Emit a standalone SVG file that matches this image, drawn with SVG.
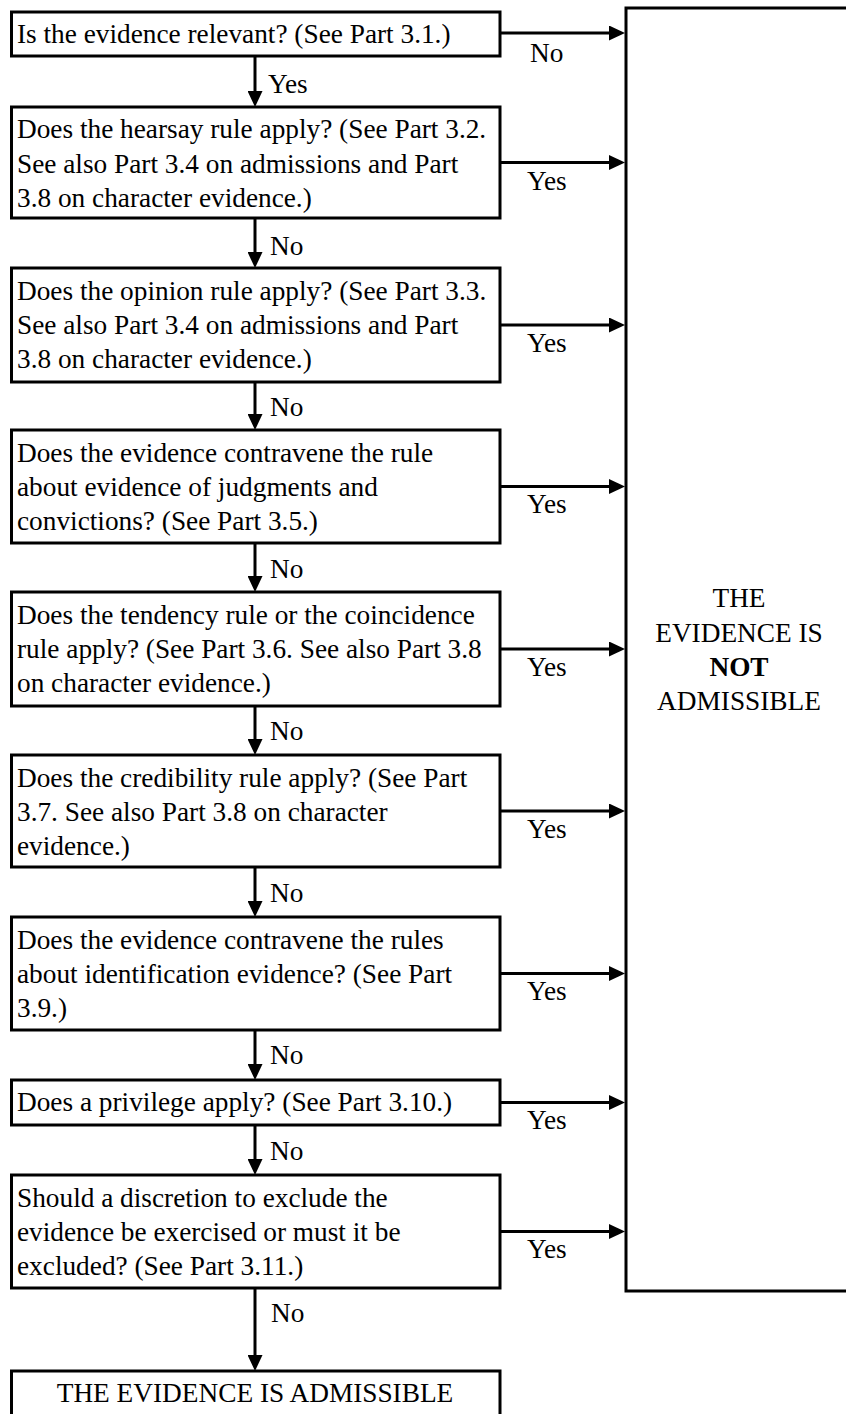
<svg xmlns="http://www.w3.org/2000/svg" width="846" height="1414" viewBox="0 0 846 1414">
<style>
  text { font-family: "Liberation Serif", "Times New Roman", serif; font-size: 27.3px; fill: #000; }
  .box { fill: #fff; stroke: #000; stroke-width: 3; }
  .conn { fill: none; stroke: #000; stroke-width: 3; marker-end: url(#ah); }
  .mid { text-anchor: middle; }
</style>
<defs>
  <marker id="ah" markerUnits="userSpaceOnUse" markerWidth="16" markerHeight="15" refX="8" refY="7.5" orient="auto" viewBox="0 0 16 15">
    <path d="M0,0 L16,7.5 L0,15 z" fill="#000"/>
  </marker>
</defs>
<rect width="846" height="1414" fill="#fff"/>

<g id="connectors">
  <path class="conn" d="M500,33 H617"/>
  <path class="conn" d="M500,162.5 H617"/>
  <path class="conn" d="M500,325 H617"/>
  <path class="conn" d="M500,486.5 H617"/>
  <path class="conn" d="M500,649 H617"/>
  <path class="conn" d="M500,811 H617"/>
  <path class="conn" d="M500,973.5 H617"/>
  <path class="conn" d="M500,1102.5 H617"/>
  <path class="conn" d="M500,1231.5 H617"/>
  <path class="conn" d="M255,56 V99"/>
  <path class="conn" d="M255,218 V260"/>
  <path class="conn" d="M255,382 V422"/>
  <path class="conn" d="M255,543 V584"/>
  <path class="conn" d="M255,706 V747"/>
  <path class="conn" d="M255,867 V909"/>
  <path class="conn" d="M255,1030 V1072"/>
  <path class="conn" d="M255,1125 V1167"/>
  <path class="conn" d="M255,1288 V1363"/>
  <text x="530" y="62">No</text>
  <text x="527" y="190">Yes</text>
  <text x="527" y="352">Yes</text>
  <text x="527" y="513">Yes</text>
  <text x="527" y="676">Yes</text>
  <text x="527" y="838">Yes</text>
  <text x="527" y="1000">Yes</text>
  <text x="527" y="1129">Yes</text>
  <text x="527" y="1258">Yes</text>
  <text x="268" y="93">Yes</text>
  <text x="270" y="255">No</text>
  <text x="270" y="416">No</text>
  <text x="270" y="578">No</text>
  <text x="270" y="740">No</text>
  <text x="270" y="902">No</text>
  <text x="270" y="1064">No</text>
  <text x="270" y="1160">No</text>
  <text x="271" y="1322">No</text>
</g>

<g id="not-admissible">
  <rect class="box" x="626" y="8" width="240" height="1283"/>
  <text class="mid" x="739" y="607">THE</text>
  <text class="mid" x="739" y="642">EVIDENCE IS</text>
  <text class="mid" x="739" y="676" font-weight="bold">NOT</text>
  <text class="mid" x="739" y="710">ADMISSIBLE</text>
</g>

<g id="q1">
  <rect class="box" x="11.5" y="12" width="488.5" height="44"/>
  <text x="17" y="43">Is the evidence relevant? (See Part 3.1.)</text>
</g>
<g id="q2">
  <rect class="box" x="11.5" y="107" width="488.5" height="111"/>
  <text x="17" y="138">Does the hearsay rule apply? (See Part 3.2.</text>
  <text x="17" y="172.5">See also Part 3.4 on admissions and Part</text>
  <text x="17" y="207">3.8 on character evidence.)</text>
</g>
<g id="q3">
  <rect class="box" x="11.5" y="268" width="488.5" height="114"/>
  <text x="17" y="300">Does the opinion rule apply? (See Part 3.3.</text>
  <text x="17" y="334">See also Part 3.4 on admissions and Part</text>
  <text x="17" y="368">3.8 on character evidence.)</text>
</g>
<g id="q4">
  <rect class="box" x="11.5" y="430" width="488.5" height="113"/>
  <text x="17" y="462">Does the evidence contravene the rule</text>
  <text x="17" y="496">about evidence of judgments and</text>
  <text x="17" y="530">convictions? (See Part 3.5.)</text>
</g>
<g id="q5">
  <rect class="box" x="11.5" y="592" width="488.5" height="114"/>
  <text x="17" y="624">Does the tendency rule or the coincidence</text>
  <text x="17" y="658">rule apply? (See Part 3.6. See also Part 3.8</text>
  <text x="17" y="692">on character evidence.)</text>
</g>
<g id="q6">
  <rect class="box" x="11.5" y="755" width="488.5" height="112"/>
  <text x="17" y="787">Does the credibility rule apply? (See Part</text>
  <text x="17" y="821">3.7. See also Part 3.8 on character</text>
  <text x="17" y="855">evidence.)</text>
</g>
<g id="q7">
  <rect class="box" x="11.5" y="917" width="488.5" height="113"/>
  <text x="17" y="949">Does the evidence contravene the rules</text>
  <text x="17" y="983">about identification evidence? (See Part</text>
  <text x="17" y="1017">3.9.)</text>
</g>
<g id="q8">
  <rect class="box" x="11.5" y="1080" width="488.5" height="45"/>
  <text x="17" y="1111">Does a privilege apply? (See Part 3.10.)</text>
</g>
<g id="q9">
  <rect class="box" x="11.5" y="1175" width="488.5" height="113"/>
  <text x="17" y="1207">Should a discretion to exclude the</text>
  <text x="17" y="1241">evidence be exercised or must it be</text>
  <text x="17" y="1275">excluded? (See Part 3.11.)</text>
</g>
<g id="admissible">
  <rect class="box" x="11.5" y="1371" width="488.5" height="80"/>
  <text class="mid" x="255" y="1402">THE EVIDENCE IS ADMISSIBLE</text>
</g>
</svg>
